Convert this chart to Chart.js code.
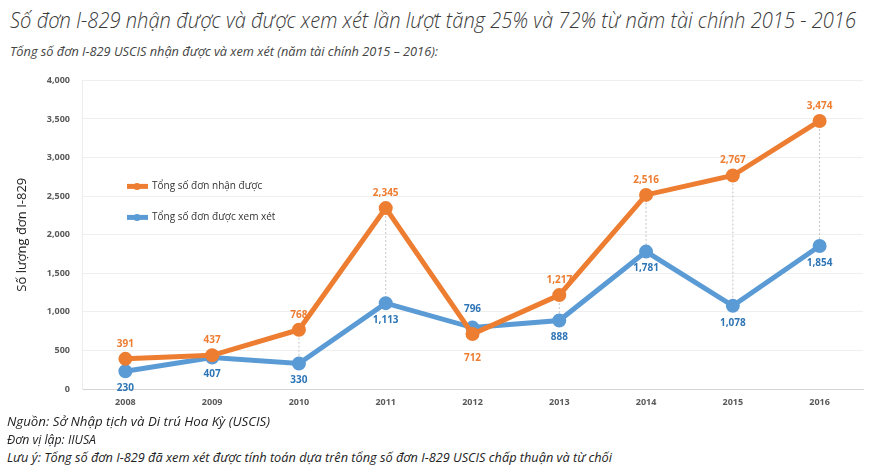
<!DOCTYPE html>
<html>
<head>
<meta charset="utf-8">
<script src="https://cdn.jsdelivr.net/npm/chart.js@4.4.0/dist/chart.umd.min.js"></script>
<style>
  body { margin: 0; background: #fff; }
  #wrap { position: relative; width: 870px; height: 474px; overflow: hidden; font-family: "Open Sans", "Liberation Sans", sans-serif; }
  .txt { position: absolute; white-space: nowrap; font-style: italic; transform-origin: 0 0; }
  #title { left: 10px; top: 4px; font-size: 22px; font-weight: 300; color: #3a3a3a; }
  #subtitle { left: 10px; top: 42px; font-size: 13px; color: #444; }
  .foot { left: 7px; font-size: 13px; color: #222; }
  #chartBox { position: absolute; left: 0; top: 70px; width: 870px; }
  #chartBox canvas { display: block; }
</style>
</head>
<body>
<div id="wrap">
  <div id="title" class="txt" data-w="846">Số đơn I-829 nhận được và được xem xét lần lượt tăng 25% và 72% từ năm tài chính 2015 - 2016</div>
  <div id="subtitle" class="txt" data-w="428">Tổng số đơn I-829 USCIS nhận được và xem xét (năm tài chính 2015 – 2016):</div>
  <div id="chartBox"><canvas id="c" width="870" height="345"></canvas></div>
  <div class="txt foot" style="top:412px" data-w="263">Nguồn: Sở Nhập tịch và Di trú Hoa Kỳ (USCIS)</div>
  <div class="txt foot" style="top:430px" data-w="89">Đơn vị lập: IIUSA</div>
  <div class="txt foot" style="top:448px" data-w="605">Lưu ý: Tổng số đơn I-829 đã xem xét được tính toán dựa trên tổng số đơn I-829 USCIS chấp thuận và từ chối</div>
</div>
<script>
const years = ['2008', '2009', '2010', '2011', '2012', '2013', '2014', '2015', '2016'];
const received = [391, 437, 768, 2345, 712, 1217, 2516, 2767, 3474];
const reviewed = [230, 407, 330, 1113, 796, 888, 1781, 1078, 1854];
const seriesNames = ['Tổng số đơn nhận được', 'Tổng số đơn được xem xét'];
const yTicks = [0, 500, 1000, 1500, 2000, 2500, 3000, 3500, 4000];

const orange = '#ED7D31';
const blue = '#5B9BD5';

// squeeze the italic texts to the narrow width of the original
document.querySelectorAll('.txt').forEach(el => {
  const w = el.getBoundingClientRect().width;
  el.style.transform = 'scaleX(' + (parseFloat(el.dataset.w) / w) + ')';
});

// dotted lines between the two series + value labels + legend
const extras = {
  id: 'extras',
  beforeDatasetsDraw(chart) {
    const ctx = chart.ctx;
    const xs = chart.scales.x, ys = chart.scales.y;
    ctx.save();
    ctx.strokeStyle = '#c4c4c4';
    ctx.lineWidth = 1;
    ctx.setLineDash([2, 2]);
    years.forEach((y, i) => {
      const x = xs.getPixelForValue(i);
      ctx.beginPath();
      ctx.moveTo(x, ys.getPixelForValue(received[i]));
      ctx.lineTo(x, ys.getPixelForValue(reviewed[i]));
      ctx.stroke();
    });
    ctx.restore();
  },
  afterDatasetsDraw(chart) {
    const ctx = chart.ctx;
    const xs = chart.scales.x, ys = chart.scales.y;
    const area = chart.chartArea;

    ctx.save();
    ctx.font = 'bold 10px "Open Sans", "DejaVu Sans", sans-serif';
    ctx.textAlign = 'center';
    ctx.textBaseline = 'middle';
    years.forEach((y, i) => {
      const x = xs.getPixelForValue(i);
      const rUp = received[i] >= reviewed[i];
      const py1 = ys.getPixelForValue(received[i]);
      const py2 = ys.getPixelForValue(reviewed[i]);
      ctx.fillStyle = '#ED7D31';
      ctx.fillText(received[i].toLocaleString('en-US'), x, rUp ? py1 - 15 : py1 + 24);
      ctx.fillStyle = '#2E75B6';
      ctx.fillText(reviewed[i].toLocaleString('en-US'), x, rUp ? py2 + 17 : py2 - 18);
    });

    // legend inside the plot
    const lx = area.left + 45;
    const items = [[seriesNames[0], orange, area.top + 106], [seriesNames[1], blue, area.top + 137]];
    ctx.textAlign = 'left';
    ctx.font = '10px "Open Sans", "DejaVu Sans", sans-serif';
    items.forEach(([name, col, ly]) => {
      ctx.strokeStyle = col;
      ctx.lineWidth = 5;
      ctx.beginPath();
      ctx.moveTo(lx, ly);
      ctx.lineTo(lx + 21, ly);
      ctx.stroke();
      ctx.fillStyle = col;
      ctx.beginPath();
      ctx.arc(lx + 10, ly, 3.5, 0, Math.PI * 2);
      ctx.fill();
      ctx.fillStyle = '#333';
      ctx.fillText(name, lx + 25, ly);
    });
    ctx.restore();
  }
};

function makeChart(canvas) {
  return new Chart(canvas, {
    type: 'line',
    data: {
      labels: years,
      datasets: [
        {
          label: seriesNames[0],
          data: received,
          borderColor: orange,
          backgroundColor: orange,
          borderWidth: 5,
          pointRadius: 4.5,
          pointBackgroundColor: orange,
          pointBorderColor: orange,
          tension: 0
        },
        {
          label: seriesNames[1],
          data: reviewed,
          borderColor: blue,
          backgroundColor: blue,
          borderWidth: 5,
          pointRadius: 4.5,
          pointBackgroundColor: blue,
          pointBorderColor: blue,
          tension: 0
        }
      ]
    },
    options: {
      responsive: false,
      animation: false,
      devicePixelRatio: 1,
      layout: { autoPadding: false, padding: { top: 10, right: 7, bottom: 0, left: 14 } },
      plugins: {
        legend: { display: false },
        tooltip: { enabled: false }
      },
      scales: {
        x: {
          offset: true,
          grid: { display: false, drawTicks: false },
          border: { color: '#d4d4d4', width: 1 },
          ticks: {
            color: '#595959',
            padding: 8,
            maxRotation: 0,
            font: { family: '"Open Sans", "DejaVu Sans", sans-serif', size: 9, weight: 'bold' }
          },
          afterFit(s) { s.height = 26; }
        },
        y: {
          min: 0,
          max: 4000,
          afterBuildTicks(s) { s.ticks = yTicks.map(v => ({ value: v })); },
          grid: { color: '#efefef', drawTicks: false },
          border: { color: '#ececec', width: 1 },
          ticks: {
            color: '#595959',
            padding: 12,
            font: { family: '"Open Sans", "DejaVu Sans", sans-serif', size: 9, weight: 'bold' },
            callback: v => v.toLocaleString('en-US')
          },
          title: {
            display: true,
            text: 'Số lượng đơn I-829',
            color: '#222',
            padding: { top: 0, bottom: 0 },
            font: { family: '"Open Sans", "DejaVu Sans", sans-serif', size: 13 }
          },
          afterFit(s) { s.width = 68; }
        }
      }
    },
    plugins: [extras]
  });
}

// keep the plot area at y 80..389 of the page: measure the extra top space, then rebuild taller
const cv = document.getElementById('c');
let chart = makeChart(cv);
const dy = Math.round(chart.chartArea.top - 10);
if (dy !== 0) {
  chart.destroy();
  cv.width = 870;
  cv.height = 345 + dy;
  document.getElementById('chartBox').style.top = (70 - dy) + 'px';
  chart = makeChart(cv);
}
</script>
</body>
</html>
